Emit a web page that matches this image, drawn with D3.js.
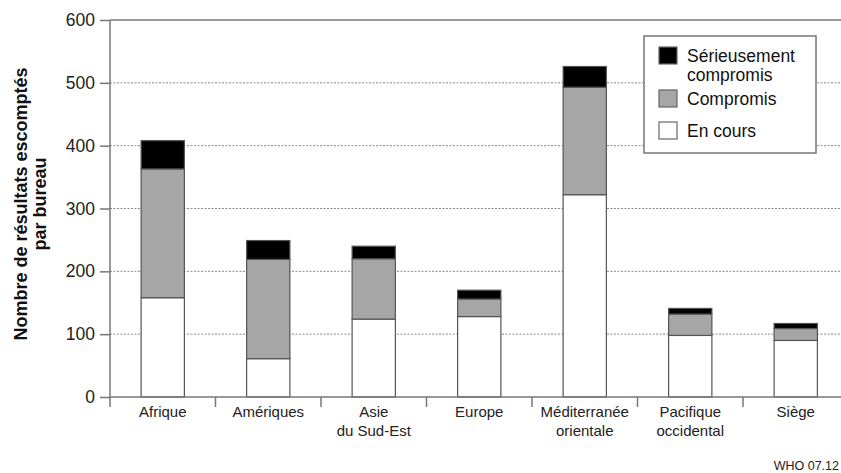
<!DOCTYPE html>
<meta charset="utf-8">
<title>Résultats escomptés par bureau</title>
<style>
  body { margin: 0; background: white; }
  svg { font-family: Arial, "Liberation Sans", sans-serif; }
  .grid line { stroke: #8a8a8a; stroke-width: 1; stroke-dasharray: 2,1.5; }
  .bars rect { stroke: #555; stroke-width: 1.2; }
</style>
<svg width="841" height="473"></svg>
<script src="https://d3js.org/d3.v7.min.js"></script>
<script>
// data
var categories = [["Afrique"], ["Amériques"], ["Asie", "du Sud-Est"], ["Europe"],
                  ["Méditerranée", "orientale"], ["Pacifique", "occidental"], ["Siège"]];
var enCours     = [158, 61, 124, 128, 322, 98, 90];
var compromis   = [205, 158, 96, 28, 171, 34, 19];
var serieux     = [45, 30, 20, 14, 33, 9, 8];
var yTicks      = [0, 100, 200, 300, 400, 500, 600];
var seriesNames = [["Sérieusement", "compromis"], ["Compromis"], ["En cours"]];
var seriesColors = ["#000000", "#a6a6a6", "#ffffff"];

var svg = d3.select("svg");
var mLeft = 110, mRight = 848.5, mTop = 20, mBottom = 397;

var x = d3.scaleBand()
    .domain(d3.range(categories.length))
    .range([mLeft, mRight])
    .padding(0);

var y = d3.scaleLinear().domain([0, 600]).range([mBottom, mTop]);

// gridlines
svg.append("g").attr("class", "grid")
  .selectAll("line")
  .data(yTicks.filter(function(d) { return d > 0 && d < 600; }))
  .enter().append("line")
  .attr("x1", mLeft).attr("x2", 841)
  .attr("y1", function(d) { return y(d); })
  .attr("y2", function(d) { return y(d); });

// top line
svg.append("line")
  .attr("x1", mLeft).attr("x2", 841)
  .attr("y1", y(600)).attr("y2", y(600))
  .attr("stroke", "#777").attr("stroke-width", 1.5);

// stacked bars
var rows = categories.map(function(c, i) {
  return { i: i, en: enCours[i], co: compromis[i], se: serieux[i] };
});
var stack = d3.stack().keys(["en", "co", "se"])(rows);
var fills = { en: seriesColors[2], co: seriesColors[1], se: seriesColors[0] };
var barW = x.bandwidth() * 0.41;

svg.append("g").attr("class", "bars")
  .selectAll("g")
  .data(stack)
  .enter().append("g")
  .attr("fill", function(s) { return fills[s.key]; })
  .selectAll("rect")
  .data(function(s) { return s; })
  .enter().append("rect")
  .attr("x", function(d) { return x(d.data.i) + x.bandwidth() / 2 - barW / 2; })
  .attr("width", barW)
  .attr("y", function(d) { return y(d[1]); })
  .attr("height", function(d) { return y(d[0]) - y(d[1]); });

// y axis
var yAxis = svg.append("g")
  .attr("transform", "translate(" + mLeft + ",0)")
  .call(d3.axisLeft(y).tickValues(yTicks).tickSize(10).tickPadding(5));
yAxis.select(".domain").remove();
yAxis.selectAll(".tick line").attr("stroke", "#777").attr("stroke-width", 1.5);
yAxis.selectAll(".tick text").attr("font-size", 17.5).attr("fill", "#222")
  .attr("font-family", "Arial, 'Liberation Sans', sans-serif");

svg.append("line")
  .attr("x1", mLeft).attr("x2", mLeft)
  .attr("y1", mTop).attr("y2", mBottom + 10)
  .attr("stroke", "#777").attr("stroke-width", 1.5);

// x baseline and category separators
svg.append("line")
  .attr("x1", mLeft).attr("x2", 841)
  .attr("y1", mBottom).attr("y2", mBottom)
  .attr("stroke", "#777").attr("stroke-width", 1.5);

svg.append("g").selectAll("line")
  .data(d3.range(1, categories.length + 1))
  .enter().append("line")
  .attr("x1", function(i) { return i < categories.length ? x(i) : mRight; })
  .attr("x2", function(i) { return i < categories.length ? x(i) : mRight; })
  .attr("y1", mBottom).attr("y2", mBottom + 10)
  .attr("stroke", "#777").attr("stroke-width", 1.5);

// category labels
var lab = svg.append("g").selectAll("text")
  .data(categories)
  .enter().append("text")
  .attr("text-anchor", "middle")
  .attr("font-size", 15)
  .attr("fill", "#222")
  .attr("transform", function(d, i) { return "translate(" + (x(i) + x.bandwidth() / 2) + ",417)"; });
lab.selectAll("tspan")
  .data(function(d) { return d; })
  .enter().append("tspan")
  .attr("x", 0)
  .attr("y", function(d, j) { return j * 18.5; })
  .text(function(d) { return d; });

// y title
var yt = svg.append("text")
  .attr("transform", "translate(0,204) rotate(-90)")
  .attr("text-anchor", "middle")
  .attr("font-size", 18)
  .attr("font-weight", "bold")
  .attr("fill", "#111");
yt.append("tspan").attr("x", 0).attr("y", 27).text("Nombre de résultats escomptés");
yt.append("tspan").attr("x", 0).attr("y", 46).text("par bureau");

// legend
var lg = svg.append("g");
lg.append("rect")
  .attr("x", 644).attr("y", 36).attr("width", 172).attr("height", 117)
  .attr("fill", "white").attr("stroke", "#777").attr("stroke-width", 1.5);
var swY = [47, 90, 122];
seriesNames.forEach(function(name, k) {
  lg.append("rect")
    .attr("x", 659).attr("y", swY[k]).attr("width", 18).attr("height", 17)
    .attr("fill", seriesColors[k]).attr("stroke", "#666").attr("stroke-width", 1.2);
  var t = lg.append("text").attr("font-size", 17.5).attr("fill", "#111");
  name.forEach(function(line, j) {
    t.append("tspan").attr("x", 687).attr("y", swY[k] + 15 + j * 19).text(line);
  });
});

// source note
svg.append("text")
  .attr("x", 839).attr("y", 470)
  .attr("text-anchor", "end")
  .attr("font-size", 12.5).attr("fill", "#222")
  .text("WHO 07.12");
</script>
